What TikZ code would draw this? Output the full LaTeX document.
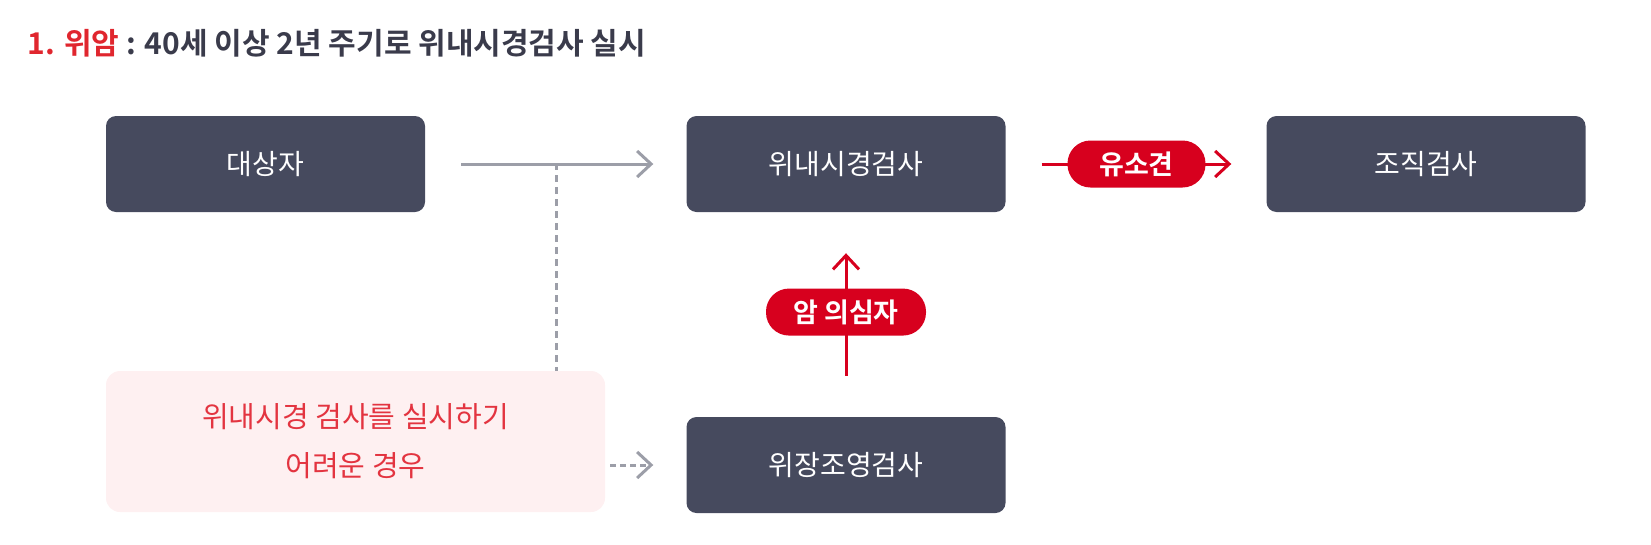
\documentclass[tikz,border=0pt]{standalone}
\usepackage{fontspec}
\setmainfont{Noto Sans CJK KR}[BoldFont={Noto Sans CJK KR Bold}]
\usetikzlibrary{arrows.meta, positioning}

\definecolor{boxdark}{HTML}{464A5E}
\definecolor{pillred}{HTML}{D7001E}
\definecolor{titlered}{HTML}{E0262E}
\definecolor{titledark}{HTML}{3A3B4B}
\definecolor{pinkfill}{HTML}{FEF0F1}
\definecolor{pinktext}{HTML}{E33440}
\definecolor{linegray}{HTML}{9C9EA8}

\begin{document}
\begin{tikzpicture}[
    x=1pt, y=-1pt,
    box/.style={fill=boxdark, rounded corners=10pt, minimum width=319pt, minimum height=96pt, text=white, font=\fontsize{28}{32}\selectfont},
    pill/.style={fill=pillred, rounded corners=23pt, minimum height=47pt, inner xsep=4pt, inner ysep=2pt, text=white, font=\fontsize{27}{30}\selectfont\bfseries},
    grayarrow/.style={line width=3pt, linegray, -{Straight Barb[length=14pt, width=26pt, line width=3pt]}},
    redarrow/.style={line width=3pt, pillred, -{Straight Barb[length=14pt, width=26pt, line width=3pt]}},
    dashline/.style={line width=3pt, linegray, dash pattern=on 7pt off 5pt}
]
\useasboundingbox (0,0) rectangle (1651,544);

\node[anchor=base west, font=\fontsize{30}{36}\selectfont\bfseries, text=titledark] (title) at (24,54)
{\textcolor{titlered}{1. 위암} : 40세 이상 2년 주기로 위내시경검사 실시};

\node[box] (target) at (265.5,164) {대상자};
\node[box] (endo) at (846,164) {위내시경검사};
\node[box] (tissue) at (1426,164) {조직검사};
\node[box] (xray) at (846,465) {위장조영검사};

\node[fill=pinkfill, rounded corners=14pt, minimum width=499pt, minimum height=141pt, align=center,
      text=pinktext, font=\fontsize{29}{49}\selectfont] (hard) at (355.5,441.5)
{위내시경 검사를 실시하기\\어려운 경우};

\coordinate (split) at (556,163);

\draw[grayarrow] ([xshift=36pt]target.east) -- ([xshift=-33pt]endo.west);
\draw[dashline] (split) -- (split |- hard.north);
\draw[grayarrow, dash pattern=on 6pt off 4pt] ([xshift=5pt]hard.east |- xray.west) -- ([xshift=-33pt]xray.west);

\draw[redarrow] ([xshift=36pt]endo.east) -- node[pill, minimum width=138pt] (finding) {유소견} ([xshift=-35pt]tissue.west);
\draw[redarrow] ([yshift=41pt]xray.north) -- node[pill, minimum width=160pt, pos=0.52] (suspect) {암 의심자} ([yshift=-41pt]endo.south);

\end{tikzpicture}
\end{document}
